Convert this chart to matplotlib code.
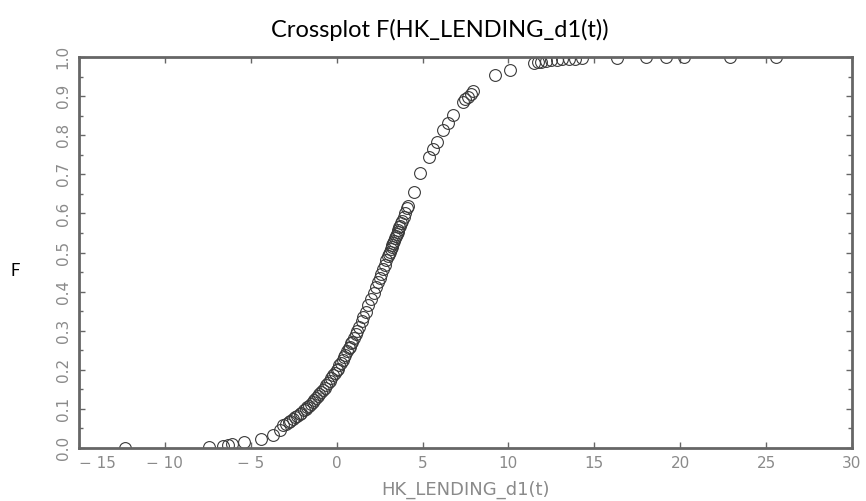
import matplotlib.pyplot as plt
import numpy as np

x_vals = [-12.3, -7.44, -6.6, -6.3, -6.1, -5.4, -4.4, -3.7, -3.3,
          -3.1, -2.95, -2.8, -2.7, -2.55, -2.4, -2.3, -2.15, -2.05,
          -1.9, -1.8, -1.7, -1.6, -1.5, -1.4, -1.3, -1.2, -1.1, -1.0,
          -0.9, -0.8, -0.7, -0.6, -0.5, -0.4, -0.3, -0.2, -0.1, 0.0, 0.05, 0.15,
          0.25, 0.35, 0.45, 0.5, 0.6, 0.7, 0.75, 0.85, 0.9, 1.0,
          1.1, 1.2, 1.3, 1.45, 1.55, 1.7, 1.85, 2.0,
          2.15, 2.3, 2.4, 2.5, 2.6, 2.7, 2.8, 2.9, 3.0,
          3.05, 3.1, 3.15, 3.2, 3.25, 3.3, 3.35, 3.4, 3.45, 3.5, 3.55, 3.6,
          3.65, 3.7, 3.75, 3.8, 3.9, 4.0, 4.1, 4.15,
          4.5, 4.88, 5.35, 5.6, 5.87, 6.22, 6.5, 6.8, 7.33, 7.5, 7.65, 7.8, 7.95,
          9.24, 10.1, 11.5, 11.7, 11.9, 12.2, 12.5, 12.8, 13.1, 13.5, 13.9, 14.3,
          16.3, 18.0, 19.2, 20.2, 22.9, 25.6]
f_vals = [0.0, 0.003, 0.005, 0.008, 0.009, 0.015, 0.023, 0.033, 0.045,
          0.058, 0.062, 0.066, 0.069, 0.073, 0.078, 0.081, 0.087, 0.090,
          0.096, 0.100, 0.104, 0.108, 0.113, 0.117, 0.122, 0.127, 0.132, 0.137,
          0.143, 0.148, 0.154, 0.160, 0.166, 0.172, 0.179, 0.186, 0.193, 0.200, 0.203, 0.211,
          0.218, 0.226, 0.234, 0.238, 0.247, 0.255, 0.259, 0.268, 0.272, 0.282,
          0.291, 0.300, 0.310, 0.325, 0.334, 0.349, 0.365, 0.381,
          0.397, 0.413, 0.424, 0.435, 0.446, 0.457, 0.469, 0.480, 0.491,
          0.497, 0.502, 0.508, 0.514, 0.519, 0.525, 0.530, 0.536, 0.542, 0.547, 0.553, 0.558,
          0.564, 0.569, 0.575, 0.580, 0.591, 0.602, 0.613, 0.618,
          0.655, 0.703, 0.744, 0.765, 0.783, 0.813, 0.832, 0.852, 0.885, 0.892, 0.898, 0.905, 0.912,
          0.954, 0.967, 0.985, 0.987, 0.988, 0.990, 0.992, 0.993, 0.994, 0.995, 0.996, 0.997,
          0.998, 0.999, 0.999, 0.999, 1.0, 1.0]

xticks = [-15, -10, -5, 0, 5, 10, 15, 20, 25, 30]
yticks = [0.0, 0.1, 0.2, 0.3, 0.4, 0.5, 0.6, 0.7, 0.8, 0.9, 1.0]

fig = plt.figure(figsize=(8.66, 5.01), dpi=100)
ax = fig.add_axes([0.0912, 0.1058, 0.8926, 0.7804])

ax.plot(x_vals, f_vals, 'o', mfc='none', mec='#3a3a3a', ms=8.5, mew=0.8)

ax.set_xlim(-15, 30)
ax.set_ylim(0, 1)
ax.set_xticks(xticks)
ax.set_xticklabels([str(t).replace('-', '\u2212 ') for t in xticks])
ax.get_xticklabels()[0].set_ha('left')
ax.set_yticks(yticks)
ax.set_yticklabels(['%.1f' % t for t in yticks], rotation=90, va='center')
ax.set_yticks(np.arange(0.05, 1.0, 0.1), minor=True)

ax.tick_params(which='both', direction='in', top=True, right=True,
               colors='#666666', labelcolor='#8a8a8a', labelsize=11, width=1)
ax.tick_params(which='major', length=4, pad=6)
ax.tick_params(which='minor', length=3)
for sp in ax.spines.values():
    sp.set_color('#666666')
    sp.set_linewidth(2)

ax.set_xlabel('HK_LENDING_d1(t)', color='#8a8a8a', fontsize=13, labelpad=7)

fig.text(0.508, 0.94, 'Crossplot F(HK_LENDING_d1(t))', ha='center', va='center',
         fontsize=17, family='Lato')
fig.text(0.018, 0.46, 'F', ha='center', va='center', fontsize=12, family='Lato')

fig.savefig('out.png', dpi=100)
